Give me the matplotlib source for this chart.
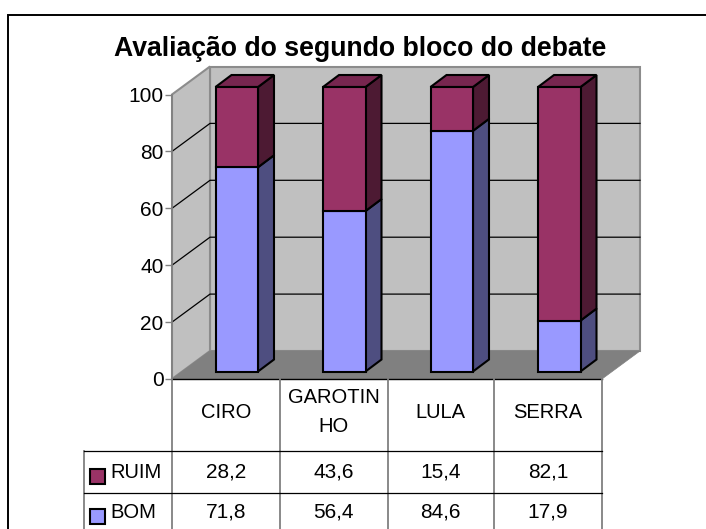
import matplotlib
matplotlib.use('Agg')
import matplotlib.pyplot as plt
from matplotlib.patches import Polygon, Rectangle

categories = ['CIRO', 'GAROTIN\nHO', 'LULA', 'SERRA']
bom = [71.8, 56.4, 84.6, 17.9]
ruim = [28.2, 43.6, 15.4, 82.1]
bom_labels = ['71,8', '56,4', '84,6', '17,9']
ruim_labels = ['28,2', '43,6', '15,4', '82,1']
yticks = [0, 20, 40, 60, 80, 100]

W, H = 706, 529
PLOT_L, PLOT_R, PLOT_T, PLOT_B = 172, 602, 94.5, 379
BAR_W = 42.5 / 107.5

plt.rcParams['font.family'] = ['Liberation Sans', 'DejaVu Sans']

fig = plt.figure(figsize=(W / 100, H / 100), dpi=100)
ax = fig.add_axes([PLOT_L / W, 1 - PLOT_B / H, (PLOT_R - PLOT_L) / W, (PLOT_B - PLOT_T) / H])
ax.set_xlim(0, 4)
ax.set_ylim(0, 100)

px = 4 / (PLOT_R - PLOT_L)
py = 100 / (PLOT_B - PLOT_T)
DX, DY = 38 * px, 28 * py   # wall depth
bx, by = 11 * px, 7.5 * py  # bar offset from front
sx, sy = 16 * px, 12 * py   # bar depth


def poly(pts, fc, ec='black', lw=1.5, z=2):
    ax.add_patch(Polygon(pts, closed=True, fc=fc, ec=ec, lw=lw, zorder=z, clip_on=False, joinstyle='miter'))


# walls and floor
poly([(DX, DY), (4 + DX, DY), (4 + DX, 100 + DY), (DX, 100 + DY)], '#c0c0c0', '#8c8c8c', 1.5, 1)
poly([(0, 0), (DX, DY), (DX, 100 + DY), (0, 100)], '#c0c0c0', '#8c8c8c', 1.5, 1)
poly([(0, 0), (4, 0), (4 + DX, DY), (DX, DY)], '#808080', '#808080', 0.5, 1)

for v in yticks[1:-1]:
    ax.plot([0, DX, 4 + DX], [v, v + DY, v + DY], color='black', lw=0.9, zorder=1.5, clip_on=False)

# bars
for i in range(len(categories)):
    x0 = i + 0.5 - BAR_W / 2 + bx
    x1 = x0 + BAR_W
    y0 = by
    y1 = by + bom[i]
    y2 = y1 + ruim[i]
    poly([(x1, y0), (x1 + sx, y0 + sy), (x1 + sx, y1 + sy), (x1, y1)], '#4e4e80')
    poly([(x1, y1), (x1 + sx, y1 + sy), (x1 + sx, y2 + sy), (x1, y2)], '#4d1a33')
    poly([(x0, y2), (x0 + sx, y2 + sy), (x1 + sx, y2 + sy), (x1, y2)], '#77264f')
    ax.add_patch(Rectangle((x0, y0), BAR_W, bom[i], fc='#9999ff', ec='black', lw=1.5, zorder=3, clip_on=False))
    ax.add_patch(Rectangle((x0, y1), BAR_W, ruim[i], fc='#993366', ec='black', lw=1.5, zorder=3, clip_on=False))

for s in ['top', 'right', 'bottom']:
    ax.spines[s].set_visible(False)
ax.spines['left'].set_color('#808080')
ax.spines['left'].set_linewidth(1.2)
ax.set_xticks([])
ax.set_yticks(yticks)
ax.tick_params(axis='y', labelsize=15, length=5, width=1, color='#808080', pad=1)
ax.patch.set_visible(False)

# overlay in pixel coordinates for table and frame
ov = fig.add_axes([0, 0, 1, 1], zorder=-1)
ov.set_xlim(0, W)
ov.set_ylim(H, 0)
ov.axis('off')
top = fig.add_axes([0, 0, 1, 1], zorder=5)
top.set_xlim(0, W)
top.set_ylim(H, 0)
top.axis('off')

# frame runs off the right and bottom of the picture
ov.plot([7.5, 7.5, W], [H, 15, 15], color='black', lw=1.4, solid_joinstyle='miter')

fig.text(360 / W, 1 - 49 / H, 'Avaliação do segundo bloco do debate', ha='center', va='center',
         fontsize=19.2, fontweight='bold')

xs = [172, 279.5, 387.5, 494, 602]
rows = [451, 493]
top.plot([PLOT_L, PLOT_R], [379, 379], color='black', lw=1)
for x in xs:
    top.plot([x, x], [379, 529], color='#808080', lw=1.3)
top.plot([84, 84], [451, 529], color='#808080', lw=1.3)
for y in rows:
    top.plot([84, 602], [y, y], color='black', lw=0.9)

for i, c in enumerate(categories):
    cx = (xs[i] + xs[i + 1]) / 2
    top.text(cx, 412, c, ha='center', va='center', fontsize=14.5, linespacing=1.66)
    top.text(cx, 472, ruim_labels[i], ha='center', va='center', fontsize=15)
    top.text(cx, 512, bom_labels[i], ha='center', va='center', fontsize=15)

top.add_patch(Rectangle((90, 469), 14.5, 14.5, fc='#993366', ec='black', lw=1.5))
top.add_patch(Rectangle((90, 509), 14.5, 14.5, fc='#9999ff', ec='black', lw=1.5))
top.text(110, 473, 'RUIM', ha='left', va='center', fontsize=14.5)
top.text(110, 513, 'BOM', ha='left', va='center', fontsize=14.5)

fig.savefig('out.png', dpi=100)
